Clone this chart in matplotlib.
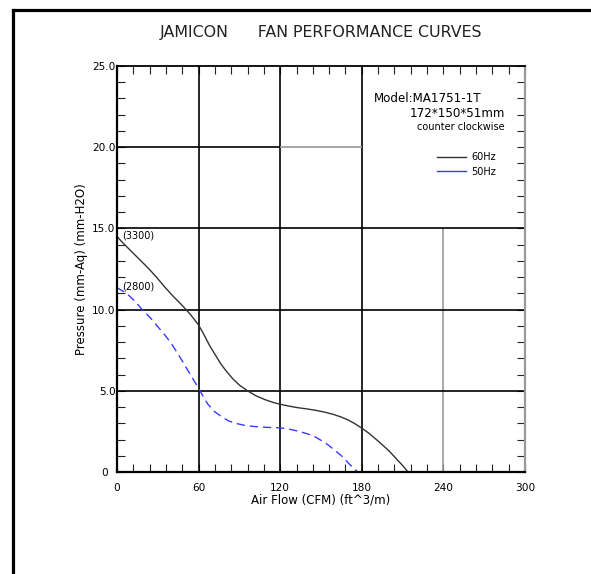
import matplotlib
matplotlib.use("Agg")
import matplotlib.pyplot as plt
from matplotlib.lines import Line2D
from matplotlib.ticker import MultipleLocator

plt.rcParams['font.family'] = ['DejaVu Sans']

# 60Hz curve (3300 rpm)
flow_60 = [0, 5, 11, 17, 23, 29, 35, 41, 48, 54, 60, 64, 68, 72, 76, 80, 85, 90, 96, 102, 109, 115,
           120, 127, 133, 140, 146, 153, 159, 165, 170, 175, 180, 185, 190, 195, 200, 205, 210, 214]
pres_60 = [14.5, 14.05, 13.55, 13.05, 12.55, 12.0, 11.4, 10.85, 10.25, 9.7, 9.05, 8.45, 7.8, 7.25,
           6.7, 6.25, 5.75, 5.35, 5.0, 4.7, 4.45, 4.28, 4.17, 4.05, 3.96, 3.88, 3.8, 3.68, 3.55,
           3.38, 3.2, 2.97, 2.7, 2.4, 2.05, 1.68, 1.3, 0.85, 0.4, 0]

# 50Hz curve (2800 rpm)
flow_50 = [0, 5, 9, 14, 18, 25, 31, 36, 40, 45, 50, 55, 60, 64, 67, 72, 77, 82, 87, 94, 101, 110,
           120, 127, 133, 140, 146, 151, 155, 160, 165, 169, 173, 177]
pres_50 = [11.35, 11.1, 10.85, 10.45, 10.05, 9.45, 8.85, 8.35, 7.9, 7.25, 6.55, 5.85, 5.15, 4.55,
           4.15, 3.7, 3.4, 3.15, 3.0, 2.87, 2.8, 2.75, 2.72, 2.63, 2.52, 2.35, 2.15, 1.9, 1.68,
           1.35, 1.0, 0.65, 0.3, 0]

x_ticks = [0, 60, 120, 180, 240, 300]
y_ticks = [0, 5, 10, 15, 20, 25]
y_labels = ['0  ', '5.0', '10.0', '15.0', '20.0', '25.0']

fig = plt.figure(figsize=(5.91, 5.74), dpi=100)
ax = fig.add_axes([117 / 591, 1 - 472 / 574, 408 / 591, 406 / 574])

# outer frame (top and left only)
fig.add_artist(Line2D([13 / 591, 1], [1 - 10 / 574, 1 - 10 / 574], color='black', lw=2.3))
fig.add_artist(Line2D([13 / 591, 13 / 591], [0, 1 - 10 / 574], color='black', lw=2.3))

# grid
ax.vlines([60, 120, 180], 0, 25, colors='black', lw=1.2)
ax.vlines([240], 0, 15, colors='#999999', lw=1.2)
ax.hlines([5, 10, 15], 0, 300, colors='black', lw=1.2)
ax.hlines([20], 0, 120, colors='black', lw=1.2)
ax.hlines([20], 120, 180, colors='#999999', lw=1.2)

l60, = ax.plot(flow_60, pres_60, color='#333333', lw=1.0, label='60Hz')
l50, = ax.plot(flow_50, pres_50, color='#3a3aff', lw=1.0, ls=(0, (6, 3.5)), label='50Hz')
l50_leg = Line2D([], [], color='#3a3aff', lw=1.0)

ax.set_xlim(0, 300)
ax.set_ylim(0, 25)
ax.set_xticks(x_ticks)
ax.set_yticks(y_ticks)
ax.set_yticklabels(y_labels)
ax.xaxis.set_minor_locator(MultipleLocator(12))
ax.yaxis.set_minor_locator(MultipleLocator(1))
ax.tick_params(which='both', direction='in', top=True, right=True, length=5.5, width=0.8, color='#222222')
ax.tick_params(axis='y', labelsize=7.6, pad=1)
ax.tick_params(axis='x', labelsize=7.6, pad=8)

for s in ['left', 'bottom']:
    ax.spines[s].set_linewidth(1.6)
ax.spines['top'].set_linewidth(1.3)
ax.spines['right'].set_linewidth(1.6)
ax.spines['right'].set_color('#999999')

ax.set_xlabel('Air Flow (CFM) (ft^3/m)', fontsize=8.5, labelpad=0)
ax.set_ylabel('Pressure (mm-Aq) (mm-H2O)', fontsize=8.5, labelpad=3)

fig.text(321 / 591, 1 - 33 / 574, 'JAMICON      FAN PERFORMANCE CURVES', ha='center', va='center',
         fontsize=11.4, color='#222222')

ax.text(4, 14.55, '(3300)', fontsize=7, va='center')
ax.text(4, 11.45, '(2800)', fontsize=7, va='center')
ax.text(189, 23.0, 'Model:MA1751-1T', fontsize=8.6, va='center')
ax.text(285, 22.05, '172*150*51mm', fontsize=8.6, ha='right', va='center')
ax.text(285, 21.25, 'counter clockwise', fontsize=7, ha='right', va='center')

ax.legend([l60, l50_leg], ['60Hz', '50Hz'], loc='upper left', bbox_to_anchor=(0.784, 0.787),
          frameon=False, fontsize=7, handlelength=3.0, handletextpad=0.5, labelspacing=0.45,
          borderpad=0, borderaxespad=0)

fig.savefig('out.png', dpi=100)
